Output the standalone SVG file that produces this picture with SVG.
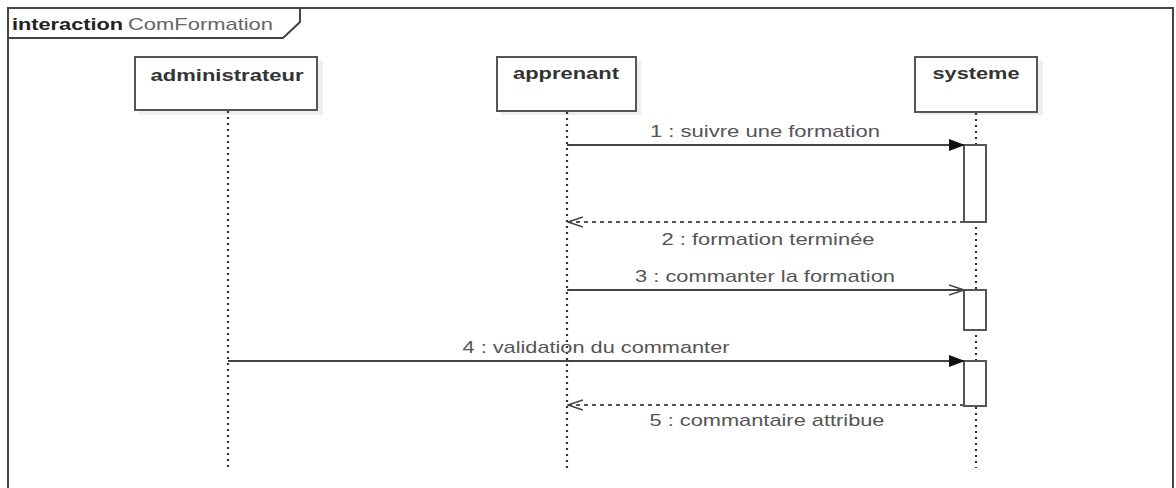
<svg xmlns="http://www.w3.org/2000/svg" width="1176" height="488" viewBox="0 0 1176 488">
<style>
  .frame{fill:none;stroke:#444;stroke-width:2}
  .box{fill:#fff;stroke:#555;stroke-width:2}
  .shadow{fill:#eee}
  .name{font-family:"Liberation Sans",Arial,sans-serif;font-size:17px;font-weight:bold;fill:#333;text-anchor:middle}
  .life{stroke:#333;stroke-width:2.2;stroke-dasharray:2 4;fill:none}
  .act{fill:#fff;stroke:#555;stroke-width:2}
  .msg{stroke:#444;stroke-width:1.8;fill:none}
  .ret{stroke:#555;stroke-width:1.8;fill:none;stroke-dasharray:4 4}
  .lbl{font-family:"Liberation Sans",Arial,sans-serif;font-size:17px;fill:#555;text-anchor:middle}
</style>
<defs>
  <marker id="filled" markerWidth="16" markerHeight="12" refX="15" refY="6" orient="auto" markerUnits="userSpaceOnUse">
    <path d="M0,0 L16,6 L0,12 Z" fill="#111"/>
  </marker>
  <marker id="open" markerWidth="16" markerHeight="12" refX="15" refY="6" orient="auto" markerUnits="userSpaceOnUse">
    <path d="M0,1 L15,6 L0,11" fill="none" stroke="#444" stroke-width="1.6"/>
  </marker>
</defs>
<rect width="1176" height="488" fill="#fff"/>
<g id="frame">
  <path class="frame" d="M8,500 L8,8 L1173,8 L1173,500"/>
  <path class="frame" d="M8,38 L283,38 L300,22 L300,8"/>
  <text x="12" y="30" font-family="'Liberation Sans',Arial,sans-serif" font-size="17" font-weight="bold" fill="#222" textLength="111" lengthAdjust="spacingAndGlyphs">interaction</text>
  <text x="128" y="30" font-family="'Liberation Sans',Arial,sans-serif" font-size="17" fill="#666" textLength="145" lengthAdjust="spacingAndGlyphs">ComFormation</text>
</g>
<g id="administrateur">
  <rect class="shadow" x="139" y="61" width="184" height="54"/>
  <rect class="box" x="135" y="57" width="182" height="53"/>
  <text class="name" x="227" y="81" textLength="153" lengthAdjust="spacingAndGlyphs">administrateur</text>
  <line class="life" x1="228" y1="111" x2="228" y2="468"/>
</g>
<g id="apprenant">
  <rect class="shadow" x="501" y="61" width="140" height="54"/>
  <rect class="box" x="497" y="57" width="139" height="54"/>
  <text class="name" x="566" y="79" textLength="106" lengthAdjust="spacingAndGlyphs">apprenant</text>
  <line class="life" x1="567" y1="112" x2="567" y2="468"/>
</g>
<g id="systeme">
  <rect class="shadow" x="919" y="61" width="124" height="54"/>
  <rect class="box" x="915" y="57" width="122" height="55"/>
  <text class="name" x="976" y="79" textLength="87" lengthAdjust="spacingAndGlyphs">systeme</text>
  <line class="life" x1="976" y1="113" x2="976" y2="468"/>
  <rect class="act" x="964" y="145" width="22" height="77"/>
  <rect class="act" x="964" y="290" width="22" height="40"/>
  <rect class="act" x="964" y="361" width="22" height="45"/>
</g>
<g id="connectors">
  <line class="msg" x1="567" y1="145" x2="964" y2="145" marker-end="url(#filled)"/>
  <text class="lbl" x="765" y="137" textLength="230" lengthAdjust="spacingAndGlyphs">1 : suivre une formation</text>
  <line class="ret" x1="964" y1="222" x2="568" y2="222" marker-end="url(#open)"/>
  <text class="lbl" x="768" y="245" textLength="213" lengthAdjust="spacingAndGlyphs">2 : formation terminée</text>
  <line class="msg" x1="567" y1="290" x2="964" y2="290" marker-end="url(#open)"/>
  <text class="lbl" x="765" y="282" textLength="260" lengthAdjust="spacingAndGlyphs">3 : commanter la formation</text>
  <line class="msg" x1="228" y1="361" x2="964" y2="361" marker-end="url(#filled)"/>
  <text class="lbl" x="596" y="353" textLength="267" lengthAdjust="spacingAndGlyphs">4 : validation du commanter</text>
  <line class="ret" x1="964" y1="405" x2="568" y2="405" marker-end="url(#open)"/>
  <text class="lbl" x="767" y="426" textLength="235" lengthAdjust="spacingAndGlyphs">5 : commantaire attribue</text>
</g>
</svg>
